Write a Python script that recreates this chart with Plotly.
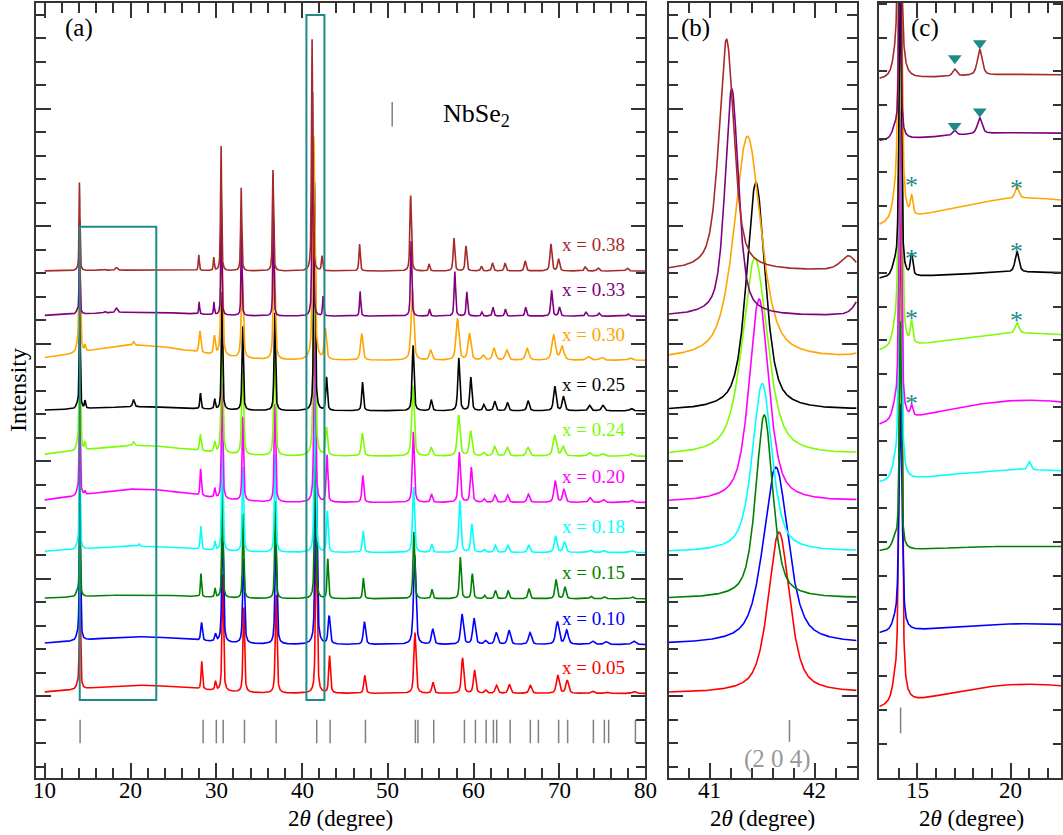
import numpy as np
import plotly.graph_objects as go

FONT = "Liberation Serif, Times New Roman, serif"
W, H = 1063, 835
TEAL = "#1f8a8a"
AXC = "#333333"

LABELS = ["x = 0.05", "x = 0.10", "x = 0.15", "x = 0.18", "x = 0.20",
          "x = 0.24", "x = 0.25", "x = 0.30", "x = 0.33", "x = 0.38"]
COLORS = ["#ff0000", "#0000ff", "#008000", "#00ffff", "#ff00ff",
          "#7cfc00", "#000000", "#ffa500", "#800080", "#a52a2a"]

# Bragg peak positions (2theta, degree) read per sample
POS_005 = [14.10, 28.30, 29.90, 30.75, 33.20, 36.97, 41.66, 43.20, 47.30, 53.15, 55.25, 58.70, 60.10, 61.40, 62.65, 64.15, 66.60, 69.80, 70.90, 73.90, 75.50, 78.70]
POS_010 = [14.10, 28.28, 29.89, 30.74, 33.18, 36.95, 41.63, 43.15, 47.26, 53.12, 55.22, 58.64, 60.04, 61.37, 62.62, 64.12, 66.56, 69.75, 70.84, 73.85, 75.44, 78.65]
POS_015 = [14.09, 28.21, 29.85, 30.70, 33.12, 36.87, 41.52, 42.99, 47.14, 53.02, 55.13, 58.44, 59.84, 61.27, 62.53, 64.02, 66.44, 69.59, 70.64, 73.67, 75.24, 78.49]
POS_018 = [14.08, 28.19, 29.84, 30.69, 33.10, 36.85, 41.50, 42.94, 47.11, 52.99, 55.11, 58.38, 59.78, 61.24, 62.51, 63.99, 66.41, 69.54, 70.58, 73.61, 75.18, 78.44]
POS_020 = [14.08, 28.17, 29.82, 30.67, 33.09, 36.83, 41.47, 42.90, 47.07, 52.96, 55.08, 58.32, 59.72, 61.21, 62.48, 63.96, 66.37, 69.50, 70.52, 73.56, 75.12, 78.40]
POS_024 = [14.08, 28.14, 29.81, 30.66, 33.06, 36.80, 41.43, 42.83, 47.02, 52.92, 55.04, 58.24, 59.64, 61.17, 62.44, 63.92, 66.32, 69.43, 70.44, 73.49, 75.04, 78.33]
POS_025 = [14.08, 28.15, 29.81, 30.66, 33.07, 36.81, 41.44, 42.85, 47.04, 52.93, 55.05, 58.26, 59.66, 61.18, 62.45, 63.93, 66.34, 69.45, 70.46, 73.50, 75.06, 78.35]
POS_030 = [14.07, 28.09, 29.78, 30.63, 33.02, 36.75, 41.36, 42.70, 46.94, 52.85, 54.98, 58.10, 59.50, 61.10, 62.38, 63.85, 66.24, 69.32, 70.30, 73.36, 74.90, 78.22]
POS_033 = [14.06, 27.99, 29.72, 30.57, 32.93, 36.64, 41.21, 42.45, 46.76, 52.70, 54.85, 57.80, 59.20, 60.95, 62.25, 63.70, 66.06, 69.08, 70.00, 73.09, 74.60, 77.98]
POS_038 = [14.05, 27.95, 29.70, 30.55, 32.90, 36.60, 41.16, 42.32, 46.70, 52.65, 54.80, 57.70, 59.10, 60.90, 62.20, 63.65, 66.00, 69.00, 69.90, 73.00, 74.50, 77.90]

# Peak heights (intensity units = panel (a) tick spacing)
HT_005 = [4.5, 1.19, 0.38, 5.0, 3.6, 4.2, 6.86, 1.58, 0.77, 2.6, 0.47, 1.5, 0.98, 0.13, 0.34, 0.38, 0.34, 0.77, 0.55, 0.09, 0.06, 0.08]
HT_010 = [4.5, 0.78, 0.31, 5.0, 3.6, 4.2, 7.54, 1.2, 0.97, 3.8, 0.65, 1.28, 1.1, 0.15, 0.5, 0.6, 0.5, 0.97, 0.6, 0.15, 0.12, 0.15]
HT_015 = [4.5, 1.0, 0.38, 5.0, 3.6, 4.2, 7.82, 1.7, 0.88, 2.85, 0.4, 1.77, 1.06, 0.14, 0.35, 0.35, 0.43, 0.82, 0.5, 0.1, 0.08, 0.08]
HT_018 = [4.5, 1.0, 0.36, 5.0, 3.6, 4.2, 7.18, 1.74, 0.92, 2.8, 0.35, 2.2, 1.2, 0.12, 0.3, 0.3, 0.3, 0.7, 0.45, 0.1, 0.08, 0.08]
HT_020 = [4.5, 1.16, 0.4, 5.0, 3.6, 4.2, 8.65, 2.0, 1.16, 3.0, 0.35, 2.13, 1.49, 0.15, 0.31, 0.31, 0.35, 0.92, 0.54, 0.2, 0.12, 0.1]
HT_024 = [4.5, 0.7, 0.43, 5.0, 3.6, 4.2, 8.43, 1.2, 0.97, 3.0, 0.36, 1.75, 1.06, 0.15, 0.4, 0.36, 0.36, 0.89, 0.4, 0.15, 0.1, 0.1]
HT_025 = [4.5, 0.67, 0.43, 5.0, 3.6, 4.2, 9.71, 1.42, 1.22, 2.8, 0.47, 2.24, 1.42, 0.26, 0.4, 0.35, 0.43, 1.04, 0.6, 0.23, 0.23, 0.1]
HT_030 = [4.5, 0.92, 0.78, 5.0, 3.6, 4.2, 9.52, 1.3, 1.13, 3.0, 0.43, 1.77, 1.13, 0.2, 0.5, 0.43, 0.5, 1.06, 0.57, 0.15, 0.12, 0.1]
HT_033 = [4.0, 0.53, 0.53, 5.2, 3.5, 4.3, 9.68, 0.85, 1.05, 3.2, 0.3, 1.89, 1.03, 0.17, 0.38, 0.3, 0.38, 1.1, 0.38, 0.17, 0.13, 0.1]
HT_038 = [3.83, 0.68, 0.55, 5.4, 3.53, 4.3, 9.86, 0.62, 1.15, 3.24, 0.3, 1.4, 1.06, 0.2, 0.34, 0.34, 0.43, 1.15, 0.51, 0.17, 0.13, 0.13]

# Peak width (FWHM, degree) per sample and relative width per reflection
FWHM = [0.24, 0.28, 0.19, 0.22, 0.22, 0.28, 0.21, 0.30, 0.15, 0.17]
WIDTH_FACTOR = [0.7, 0.8, 0.8, 0.85, 0.9, 0.95, 1.0, 1.0, 1.1, 1.2, 1.2, 1.3, 1.3, 1.3, 1.4, 1.4, 1.5, 1.6, 1.6, 1.7, 1.8, 1.9]

# Impurity / shoulder peaks per sample: position, height, FWHM
IMP_POS = [[13.8], [13.8], [13.8], [13.8, 21.0], [13.8, 14.69], [13.8, 14.69, 20.35], [13.8, 14.69, 20.35],
           [13.8, 14.69, 20.35], [13.8, 17.0, 18.35], [13.8, 17.0, 18.35]]
IMP_HT = [[0.12], [0.15], [0.2], [0.15, 0.10], [0.15, 0.14], [0.2, 0.32, 0.16], [0.15, 0.32, 0.31],
          [0.2, 0.25, 0.16], [0.12, 0.06, 0.19], [0.04, 0.03, 0.11]]
IMP_W = [[0.35], [0.35], [0.35], [0.35, 0.2], [0.35, 0.15], [0.35, 0.15, 0.25], [0.35, 0.15, 0.25],
         [0.35, 0.15, 0.25], [0.35, 0.25, 0.3], [0.35, 0.25, 0.3]]

# Amorphous hump amplitude
HUMP_AMP = [0.35, 0.33, 0.17, 0.26, 0.57, 0.45, 0.17, 0.64, 0.17, 0.04]
HUMP_CENTER = 21.0
HUMP_SIGMA = 6.0

# NbSe2 reference reflections
REF_POS = [14.12, 28.46, 30.0, 30.8, 33.28, 36.97, 41.7, 43.26, 47.38, 53.2, 53.5, 55.34, 58.92, 60.2,
           61.45, 62.3, 62.68, 64.25, 66.6, 67.54, 69.9, 70.95, 73.95, 75.23, 75.73, 78.85]

# tick labels
TICKS_A = [10, 20, 30, 40, 50, 60, 70, 80]
TICKS_B = [41, 42]
TICKS_C = [15, 20]

POSITIONS = [POS_005, POS_010, POS_015, POS_018, POS_020, POS_024, POS_025, POS_030, POS_033, POS_038]
HEIGHTS = [HT_005, HT_010, HT_015, HT_018, HT_020, HT_024, HT_025, HT_030, HT_033, HT_038]

# layout offsets (vertical stacking)
BASE_A = [3.12, 5.20, 7.15, 9.12, 11.25, 13.22, 15.15, 17.30, 19.18, 21.10]
OFF_C = [0.54, 3.07, 5.62, 7.49, 8.96, 11.30, 13.68, 14.81, 17.75, 19.62]
SCALE_C = [3.5, 1.5, 1.5, 2.5, 2.2, 2.0, 2.0, 2.2, 2.5, 7.0]
ETA = 0.6


def pv(x, p, h, w):
    d = (x - p) / w
    return h * (ETA / (1 + 4 * d * d) + (1 - ETA) * np.exp(-4 * np.log(2) * d * d))


def profile(i, x):
    y = HUMP_AMP[i] * np.exp(-0.5 * ((x - HUMP_CENTER) / HUMP_SIGMA) ** 2)
    for p, h, f in zip(POSITIONS[i], HEIGHTS[i], WIDTH_FACTOR):
        y = y + pv(x, p, h, FWHM[i] * f)
    for p, h, w in zip(IMP_POS[i], IMP_HT[i], IMP_W[i]):
        y = y + pv(x, p, h, w)
    return y


def px(v):
    return v / W


def py(v):
    return 1 - v / H


xa = np.arange(10.0, 80.0001, 0.02)
xb = np.arange(40.61, 42.4001, 0.004)
xc = np.arange(12.96, 22.72, 0.008)

fig = go.Figure()
for i in range(len(LABELS)):
    col = COLORS[i]
    fig.add_trace(go.Scatter(x=xa, y=BASE_A[i] + profile(i, xa), mode="lines",
                             line=dict(color=col, width=1.6), xaxis="x", yaxis="y",
                             showlegend=False, hoverinfo="skip"))
    fig.add_trace(go.Scatter(x=xb, y=BASE_A[i] + profile(i, xb), mode="lines",
                             line=dict(color=col, width=1.6), xaxis="x2", yaxis="y2",
                             showlegend=False, hoverinfo="skip"))
    fig.add_trace(go.Scatter(x=xc, y=OFF_C[i] + SCALE_C[i] * profile(i, xc), mode="lines",
                             line=dict(color=col, width=1.6), xaxis="x3", yaxis="y3",
                             showlegend=False, hoverinfo="skip"))

# reference ticks panel (a)
rx, ry = [], []
for p in REF_POS:
    rx += [p, p, None]
    ry += [1.0, 2.0, None]
fig.add_trace(go.Scatter(x=rx, y=ry, mode="lines", line=dict(color="#808080", width=1.5),
                         xaxis="x", yaxis="y", showlegend=False, hoverinfo="skip"))
fig.add_trace(go.Scatter(x=[41.76, 41.76], y=[1.06, 1.99], mode="lines", line=dict(color="#808080", width=1.5),
                         xaxis="x2", yaxis="y2", showlegend=False, hoverinfo="skip"))
fig.add_trace(go.Scatter(x=[14.1, 14.1], y=[0.31, 1.08], mode="lines", line=dict(color="#808080", width=1.5),
                         xaxis="x3", yaxis="y3", showlegend=False, hoverinfo="skip"))
fig.add_trace(go.Scatter(x=[50.5, 50.5], y=[27.25, 28.3], mode="lines", line=dict(color="#808080", width=1.5),
                         xaxis="x", yaxis="y", showlegend=False, hoverinfo="skip"))

# triangles in panel (c)
fig.add_trace(go.Scatter(x=[17.01, 18.35, 17.0, 18.35], y=[20.39, 20.83, 18.37, 18.8], mode="markers",
                         marker=dict(symbol="triangle-down", size=12, color=TEAL),
                         xaxis="x3", yaxis="y3", showlegend=False, hoverinfo="skip"))

shapes = [
    dict(type="rect", xref="x", yref="y", x0=14.08, x1=23.0, y0=2.84, y1=22.99,
         line=dict(color=TEAL, width=2), layer="above"),
    dict(type="rect", xref="x", yref="y", x0=40.5, x1=42.6, y0=2.84, y1=32.0,
         line=dict(color=TEAL, width=2), layer="above"),
]

ann = []
for txt, xp in [("(a)", 63), ("(b)", 680), ("(c)", 911)]:
    ann.append(dict(text=txt, x=px(xp), y=py(28), xref="paper", yref="paper", xanchor="left",
                    yanchor="middle", showarrow=False, font=dict(family=FONT, size=25, color="black")))
ann.append(dict(text="Intensity", x=px(18), y=py(390), xref="paper", yref="paper", textangle=-90,
                xanchor="center", yanchor="middle", showarrow=False,
                font=dict(family=FONT, size=24, color="black")))
for cx in [341, 764, 973]:
    ann.append(dict(text="2<i>θ</i> (degree)", x=px(cx), y=py(818), xref="paper", yref="paper",
                    xanchor="center", yanchor="middle", showarrow=False,
                    font=dict(family=FONT, size=23, color="black")))
for ticks, xr in [(TICKS_A, "x"), (TICKS_B, "x2"), (TICKS_C, "x3")]:
    for t in ticks:
        ann.append(dict(text=str(t), x=t, y=py(790), xref=xr, yref="paper", xanchor="center",
                        yanchor="middle", showarrow=False, font=dict(family=FONT, size=23, color="black")))
ann.append(dict(text="NbSe<sub>2</sub>", x=56.2, y=27.74, xref="x", yref="y", xanchor="left",
                yanchor="middle", showarrow=False, font=dict(family=FONT, size=26, color="black")))
ann.append(dict(text="(2 0 4)", x=41.65, y=0.33, xref="x2", yref="y2", xanchor="center",
                yanchor="middle", showarrow=False, font=dict(family=FONT, size=25, color="#999999")))
for i in range(len(LABELS)):
    ann.append(dict(text=LABELS[i], x=70.1, y=BASE_A[i] + 1.12, xref="x", yref="y", xanchor="left",
                    yanchor="middle", showarrow=False, font=dict(family=FONT, size=19, color=COLORS[i])))
for (ax_, ay_) in [(14.69, 16.76), (20.31, 16.67), (14.69, 14.58), (20.31, 14.78),
                   (14.69, 12.8), (20.31, 12.75), (14.69, 10.28)]:
    ann.append(dict(text="*", x=ax_, y=ay_, xref="x3", yref="y3", xanchor="center", yanchor="middle",
                    yshift=-5, showarrow=False, font=dict(family=FONT, size=26, color=TEAL)))

common = dict(showline=True, linecolor=AXC, linewidth=1.5, mirror="ticks", ticks="inside",
              tickcolor=AXC, tickwidth=1.5, showgrid=False, zeroline=False, showticklabels=False)
mnr = dict(ticks="inside", tickcolor=AXC, tickwidth=1.5, ticklen=10)
ydom = [57 / H, 832 / H]

fig.update_layout(
    width=W, height=H, autosize=False, margin=dict(l=0, r=0, t=0, b=0),
    paper_bgcolor="white", plot_bgcolor="white", showlegend=False,
    xaxis=dict(**common, domain=[px(36.5), px(646.5)], range=[9.03, 80], tick0=10, dtick=10, ticklen=15,
               minor=dict(dtick=2, **mnr), anchor="y"),
    yaxis=dict(**common, domain=ydom, range=[-0.48, 32.51], tick0=3, dtick=5, ticklen=15,
               minor=dict(dtick=1, **mnr), anchor="x"),
    xaxis2=dict(**common, domain=[px(670), px(858.3)], range=[40.61, 42.40], tick0=41, dtick=1, ticklen=15,
                minor=dict(dtick=0.2, **mnr), anchor="y2"),
    yaxis2=dict(**common, domain=ydom, range=[-0.48, 32.51], tick0=3, dtick=5, ticklen=15,
                minor=dict(dtick=1, **mnr), anchor="x2"),
    xaxis3=dict(**common, domain=[px(881), 1.0], range=[12.96, 22.71], tick0=15, dtick=5, ticklen=15,
                minor=dict(dtick=1, **mnr), anchor="y3"),
    yaxis3=dict(**common, domain=ydom, range=[-1.02, 22.03], tick0=0, dtick=1, ticklen=8, anchor="x3"),
    shapes=shapes, annotations=ann,
)

fig.write_html(
    "out.html",
    config={"displayModeBar": False, "responsive": False},
    post_script=("document.body.style.margin='0';document.body.style.overflow='hidden';"
                 "Plotly.relayout('{plot_id}', {width: 1063, height: 835});"),
)
